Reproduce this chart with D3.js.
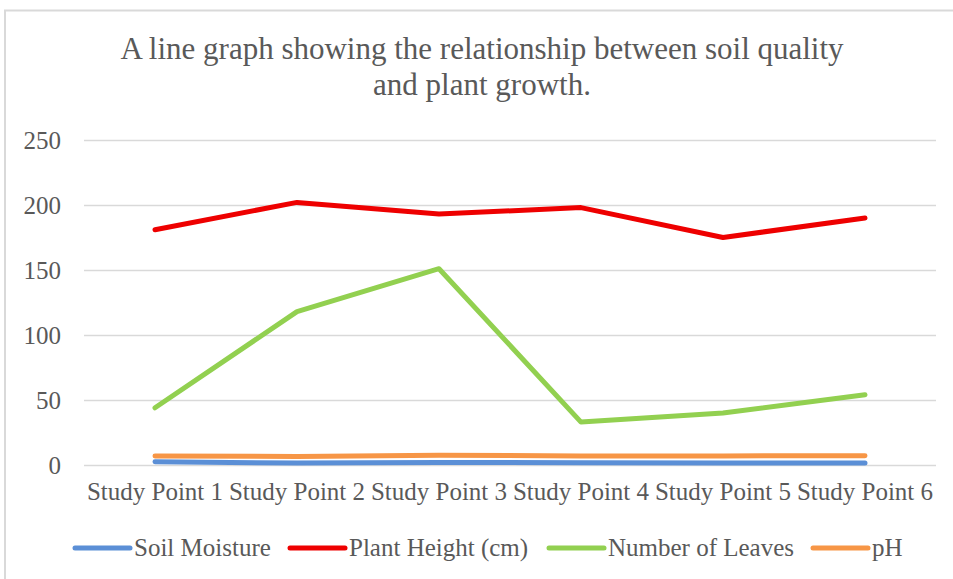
<!DOCTYPE html>
<html>
<head>
<meta charset="utf-8">
<script src="https://cdn.jsdelivr.net/npm/d3@7"></script>
<style>
  body { margin: 0; background: #fff; }
  text { font-family: "Liberation Serif", "DejaVu Serif", serif; fill: #595959; }
</style>
</head>
<body>
<script>
const categories = ['Study Point 1', 'Study Point 2', 'Study Point 3', 'Study Point 4', 'Study Point 5', 'Study Point 6'];
const soilMoisture = [2.5, 1.5, 2, 1.8, 1.5, 1.5];
const plantHeight = [181, 202, 193, 198, 175, 190];
const numberOfLeaves = [44, 118, 151, 33, 40, 54];
const pH = [7, 6.5, 7.5, 7, 7, 7.2];
const yTicks = [0, 50, 100, 150, 200, 250];

const series = [
  { name: 'Soil Moisture', values: soilMoisture, color: '#5b8fd6' },
  { name: 'Plant Height (cm)', values: plantHeight, color: '#ee0000' },
  { name: 'Number of Leaves', values: numberOfLeaves, color: '#92d050' },
  { name: 'pH', values: pH, color: '#f79646' }
];

const W = 953, H = 579;
const margin = { top: 140, right: 17, bottom: 114, left: 84 };
const width = W - margin.left - margin.right;
const height = H - margin.top - margin.bottom;

const svg = d3.select('body').append('svg')
  .attr('width', W)
  .attr('height', H);

// chart border
svg.append('rect')
  .attr('x', 5).attr('y', 10.5)
  .attr('width', W + 10).attr('height', H + 10)
  .attr('fill', 'none')
  .attr('stroke', '#d9d9d9')
  .attr('stroke-width', 2);

svg.append('text')
  .attr('x', 482).attr('y', 59)
  .attr('text-anchor', 'middle')
  .style('font-size', '31px')
  .selectAll('tspan')
  .data(['A line graph showing the relationship between soil quality', 'and plant growth.'])
  .enter().append('tspan')
  .attr('x', 482)
  .attr('dy', (d, i) => i === 0 ? 0 : 36)
  .text(d => d);

const g = svg.append('g').attr('transform', `translate(${margin.left},${margin.top})`);

const x = d3.scaleBand().domain(categories).range([0, width]);
const y = d3.scaleLinear().domain([0, 250]).range([height, 0]);

// gridlines
g.append('g')
  .selectAll('line')
  .data(yTicks)
  .enter().append('line')
  .attr('x1', 0).attr('x2', width)
  .attr('y1', d => Math.round(y(d)) + 0.5)
  .attr('y2', d => Math.round(y(d)) + 0.5)
  .attr('stroke', '#d9d9d9')
  .attr('stroke-width', 1.5);

// y axis labels
const yAxis = g.append('g')
  .call(d3.axisLeft(y).tickValues(yTicks).tickSize(0).tickPadding(23));
yAxis.select('.domain').remove();
yAxis.selectAll('text').style('font-size', '25px').attr('fill', '#595959');

// x axis labels
const xAxis = g.append('g')
  .attr('transform', `translate(0,${height})`)
  .call(d3.axisBottom(x).tickSize(0).tickPadding(17));
xAxis.select('.domain').remove();
xAxis.selectAll('text').style('font-size', '25px').attr('fill', '#595959');

const line = d3.line()
  .x((d, i) => x(categories[i]) + x.bandwidth() / 2)
  .y(d => y(d));

g.append('g')
  .selectAll('path')
  .data(series)
  .enter().append('path')
  .attr('d', d => line(d.values))
  .attr('fill', 'none')
  .attr('stroke', d => d.color)
  .attr('stroke-width', 5)
  .attr('stroke-linecap', 'round')
  .attr('stroke-linejoin', 'round');

// legend
const legendX = [75, 290, 549, 813];
const legend = svg.append('g')
  .selectAll('g')
  .data(series)
  .enter().append('g')
  .attr('transform', (d, i) => `translate(${legendX[i]},548)`);
legend.append('line')
  .attr('x1', 0).attr('x2', 55)
  .attr('stroke', d => d.color)
  .attr('stroke-width', 5)
  .attr('stroke-linecap', 'round');
legend.append('text')
  .attr('x', 59).attr('y', 8)
  .style('font-size', '25px')
  .text(d => d.name);
</script>
</body>
</html>
